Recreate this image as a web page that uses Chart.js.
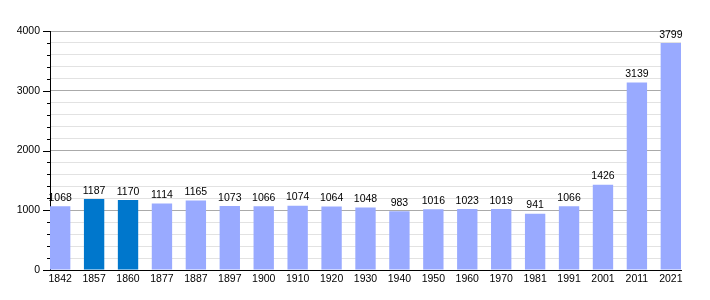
<!DOCTYPE html>
<html>
<head>
<meta charset="utf-8">
<script src="https://cdn.jsdelivr.net/npm/chart.js@4/dist/chart.umd.min.js"></script>
<style>
html,body{margin:0;padding:0;background:#fff;}
#wrap{width:710px;height:300px;}
</style>
</head>
<body>
<div id="wrap"><canvas id="c" width="710" height="300"></canvas></div>
<script>
const years = ["1842","1857","1860","1877","1887","1897","1900","1910","1920","1930","1940","1950","1960","1970","1981","1991","2001","2011","2021"];
const population = [1068,1187,1170,1114,1165,1073,1066,1074,1064,1048,983,1016,1023,1019,941,1066,1426,3139,3799];
const highlighted = ["1857","1860"];
const yTicks = [0,1000,2000,3000,4000];

const lightColor = "#99aaff";
const darkColor = "#0077cc";
const FONT = "'Liberation Sans', Arial, sans-serif";
const FSIZE = 10.5;

const labelPlugin = {
  id: 'labels',
  afterDatasetsDraw(chart) {
    const ctx = chart.ctx;
    const meta = chart.getDatasetMeta(0);
    ctx.save();
    ctx.font = FSIZE + "px " + FONT;
    ctx.fillStyle = "#000";
    ctx.textAlign = "center";
    ctx.textBaseline = "bottom";
    meta.data.forEach((bar, i) => {
      ctx.fillText(String(population[i]), bar.x, bar.y - 3);
    });
    ctx.restore();
  },
  afterDraw(chart) {
    const ctx = chart.ctx;
    const y = chart.scales.y;
    const left = chart.chartArea.left;
    ctx.save();
    ctx.strokeStyle = "#000";
    ctx.lineWidth = 1;
    for (let v = 0; v <= 4000; v += 200) {
      const py = Math.round(y.getPixelForValue(v)) + 0.5;
      const len = (v % 1000 === 0) ? 7 : 3;
      ctx.beginPath();
      ctx.moveTo(left - len, py);
      ctx.lineTo(left, py);
      ctx.stroke();
    }
    ctx.restore();
  }
};

new Chart(document.getElementById('c'), {
  type: 'bar',
  data: {
    datasets: [{
      data: population.map((v, i) => ({x: i, y: v})),
      backgroundColor: years.map(y => highlighted.includes(y) ? darkColor : lightColor),
      borderWidth: 0,
      barPercentage: 0.6,
      categoryPercentage: 1.0
    }]
  },
  options: {
    responsive: false,
    animation: false,
    devicePixelRatio: 1,
    layout: { padding: { left: 0, right: 29, top: 31, bottom: 0 } },
    plugins: { legend: { display: false }, tooltip: { enabled: false } },
    scales: {
      x: {
        type: 'linear',
        offset: false,
        min: -0.3,
        max: 18.3,
        afterBuildTicks: (axis) => { axis.ticks = years.map((_, i) => ({ value: i })); },
        afterFit: (s) => { s.height = 30; },
        grid: { display: false, drawTicks: false, offset: false },
        border: { display: true, color: '#000', width: 1 },
        ticks: {
          autoSkip: false,
          maxRotation: 0,
          padding: 3,
          color: '#000',
          font: { family: FONT, size: FSIZE },
          callback: (v) => years[v] ?? ''
        }
      },
      y: {
        min: 0,
        max: 4000,
        afterBuildTicks: (axis) => {
          const t = [];
          for (let v = 0; v <= 4000; v += 200) t.push({ value: v });
          axis.ticks = t;
        },
        afterFit: (s) => { s.width = 50; },
        grid: {
          drawTicks: false,
          color: (c) => (c.tick && c.tick.value % 1000 === 0) ? '#aaaaaa' : '#e2e2e2',
          lineWidth: 1
        },
        border: { display: true, color: '#000', width: 1 },
        ticks: {
          padding: 10,
          color: '#000',
          font: { family: FONT, size: FSIZE },
          autoSkip: false,
          callback: (v) => yTicks.includes(v) ? String(v) : ''
        }
      }
    }
  },
  plugins: [labelPlugin]
});
</script>
</body>
</html>
